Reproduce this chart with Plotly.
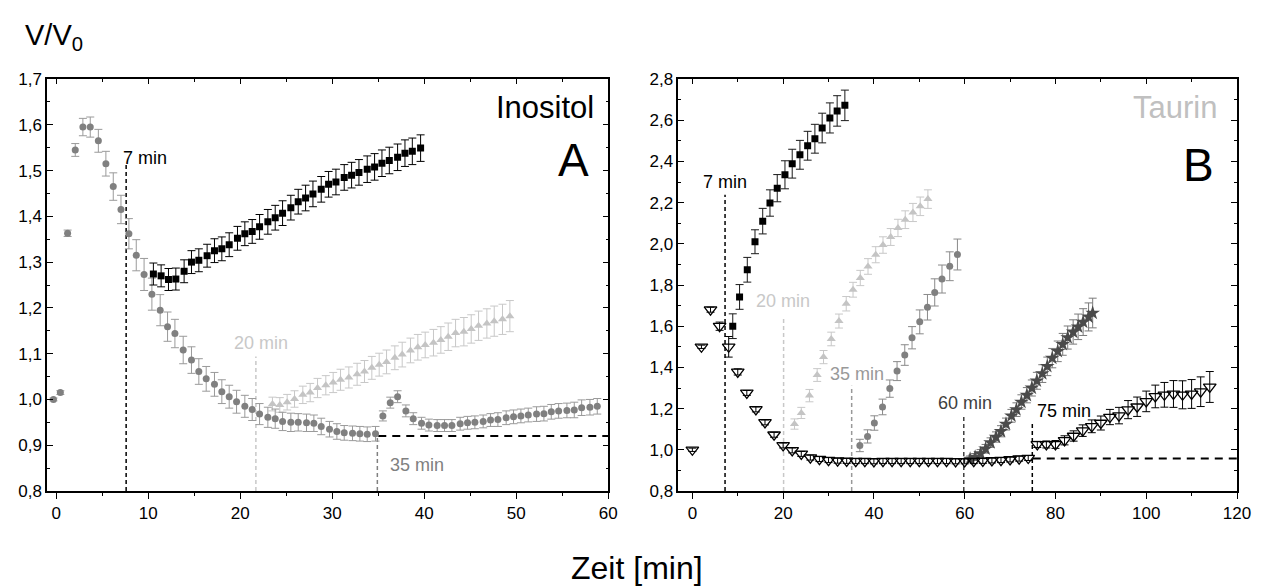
import plotly.graph_objects as go

# ---------------- Panel A (Inositol) ----------------
a_ctrl_x = [-0.3, 0.45, 1.24, 2.07, 2.9, 3.7, 4.58, 5.4, 6.2, 7.04, 7.9, 8.7, 9.55, 10.4, 11.3, 12.1,
            12.9, 13.8, 14.7, 15.5, 16.3, 17.2, 18.0, 18.8, 19.6, 20.5, 21.3, 22.1, 23.0, 23.8, 24.6,
            25.5, 26.3, 27.2, 28.0, 28.8, 29.7, 30.5, 31.3, 32.2, 33.0, 33.8, 34.7]
a_ctrl_y = [1.0, 1.015, 1.363, 1.545, 1.595, 1.595, 1.565, 1.515, 1.465, 1.415, 1.362, 1.315, 1.273,
            1.230, 1.195, 1.159, 1.144, 1.108, 1.086, 1.061, 1.045, 1.033, 1.017, 1.006, 0.995, 0.985,
            0.978, 0.968, 0.961, 0.958, 0.952, 0.950, 0.950, 0.949, 0.948, 0.941, 0.935, 0.930, 0.927,
            0.926, 0.925, 0.924, 0.925]
a_ctrl_e = [0.003, 0.004, 0.007, 0.014, 0.019, 0.022, 0.025, 0.027, 0.030, 0.031, 0.033, 0.034, 0.035,
            0.035, 0.034, 0.032, 0.031, 0.030, 0.029, 0.028, 0.027, 0.026, 0.026, 0.025, 0.025, 0.024,
            0.024, 0.023, 0.022, 0.021, 0.020, 0.020, 0.019, 0.019, 0.018, 0.018, 0.017, 0.017, 0.016,
            0.016, 0.016, 0.016, 0.016]

a_7_x = [10.56, 11.4, 12.2, 13.0, 13.9, 14.7, 15.5, 16.4, 17.2, 18.0, 18.8, 19.7, 20.5, 21.3, 22.1,
         23.0, 23.8, 24.6, 25.5, 26.3, 27.1, 27.9, 28.8, 29.6, 30.4, 31.3, 32.1, 32.9, 33.8, 34.6,
         35.4, 36.2, 37.1, 37.9, 38.7, 39.6]
a_7_y = [1.274, 1.270, 1.262, 1.263, 1.280, 1.300, 1.304, 1.314, 1.325, 1.329, 1.338, 1.352, 1.362,
         1.367, 1.377, 1.388, 1.397, 1.407, 1.419, 1.432, 1.440, 1.449, 1.459, 1.470, 1.475, 1.485,
         1.490, 1.496, 1.503, 1.508, 1.516, 1.522, 1.529, 1.538, 1.542, 1.549]
a_7_e = [0.024, 0.024, 0.024, 0.024, 0.025, 0.025, 0.025, 0.025, 0.026, 0.026, 0.026, 0.026, 0.026,
         0.026, 0.027, 0.027, 0.027, 0.027, 0.027, 0.027, 0.028, 0.028, 0.028, 0.028, 0.028, 0.028,
         0.028, 0.028, 0.029, 0.029, 0.029, 0.029, 0.029, 0.029, 0.029, 0.029]

a_20_x = [23.5, 24.3, 25.1, 25.9, 26.8, 27.6, 28.4, 29.3, 30.1, 30.9, 31.8, 32.7, 33.5, 34.3, 35.1,
          35.9, 36.8, 37.6, 38.5, 39.3, 40.1, 41.0, 41.8, 42.6, 43.4, 44.3, 45.1, 45.9, 46.8, 47.6,
          48.5, 49.3]
a_20_y = [0.990, 0.988, 0.994, 1.001, 1.010, 1.015, 1.025, 1.031, 1.037, 1.043, 1.048, 1.055, 1.061,
          1.069, 1.076, 1.082, 1.091, 1.098, 1.107, 1.114, 1.119, 1.124, 1.130, 1.137, 1.145, 1.148,
          1.154, 1.161, 1.166, 1.171, 1.175, 1.182]
a_20_e = [0.015, 0.016, 0.017, 0.018, 0.019, 0.020, 0.021, 0.021, 0.022, 0.023, 0.023, 0.024, 0.024,
          0.025, 0.025, 0.026, 0.026, 0.027, 0.027, 0.028, 0.028, 0.029, 0.029, 0.030, 0.030, 0.031,
          0.031, 0.032, 0.032, 0.033, 0.033, 0.034]

a_35_x = [35.5, 36.3, 37.1, 38.0, 38.8, 39.7, 40.5, 41.4, 42.2, 43.0, 43.9, 44.7, 45.5, 46.4, 47.2,
          48.0, 48.9, 49.7, 50.5, 51.3, 52.2, 53.0, 53.8, 54.6, 55.5, 56.3, 57.1, 58.0, 58.8]
a_35_y = [0.964, 0.993, 1.006, 0.975, 0.958, 0.948, 0.944, 0.943, 0.943, 0.943, 0.947, 0.949, 0.950,
          0.952, 0.955, 0.956, 0.960, 0.962, 0.964, 0.966, 0.968, 0.969, 0.973, 0.975, 0.976, 0.977,
          0.982, 0.983, 0.985]
a_35_e = [0.011, 0.012, 0.013, 0.013, 0.013, 0.013, 0.013, 0.013, 0.013, 0.013, 0.014, 0.014, 0.014,
          0.014, 0.014, 0.015, 0.015, 0.015, 0.015, 0.015, 0.016, 0.016, 0.016, 0.016, 0.016, 0.017,
          0.017, 0.017, 0.017]

a_event_t = [7.6, 21.7, 34.9]
a_event_top = [1.517, 1.094, 0.92]
a_event_color = ["#000000", "#c8c8c8", "#808080"]
a_event_label = ["7 min", "20 min", "35 min"]
a_label_x = [7.0, 19.1, 36.1]
a_label_y = [1.528, 1.124, 0.856]
a_base_y = 0.92
a_base_x = [35.0, 60.0]

# ---------------- Panel B (Taurin) ----------------
b_ctrl_x = [0, 2, 4, 6, 8, 10, 12, 14, 16, 18, 20, 22, 24, 26, 28, 30, 32, 34, 36, 38, 40, 42, 44, 46,
            48, 50, 52, 54, 56, 58, 60, 62, 64, 66, 68, 70, 72, 74]
b_ctrl_y = [1.0, 1.5, 1.68, 1.6, 1.5, 1.378, 1.276, 1.196, 1.133, 1.073, 1.021, 0.997, 0.980, 0.962,
            0.955, 0.950, 0.947, 0.946, 0.945, 0.945, 0.944, 0.945, 0.945, 0.945, 0.945, 0.945, 0.945,
            0.945, 0.945, 0.944, 0.944, 0.945, 0.946, 0.948, 0.950, 0.953, 0.957, 0.960]
b_ctrl_e = [0.008, 0.008, 0.012, 0.02, 0.05, 0.015, 0.012, 0.012, 0.012, 0.012, 0.012, 0.012, 0.012,
            0.012, 0.012, 0.012, 0.012, 0.012, 0.012, 0.012, 0.012, 0.012, 0.012, 0.012, 0.012, 0.012,
            0.012, 0.012, 0.012, 0.012, 0.012, 0.012, 0.012, 0.012, 0.012, 0.012, 0.012, 0.012]

b_75_x = [76, 78, 80, 82, 84, 86, 88, 90, 92, 94, 96, 98, 100, 102, 104, 106, 108, 110, 112, 114]
b_75_y = [1.026, 1.026, 1.026, 1.046, 1.067, 1.093, 1.114, 1.130, 1.159, 1.166, 1.195, 1.209, 1.235,
          1.259, 1.267, 1.271, 1.267, 1.271, 1.282, 1.305]
b_75_e = [0.015, 0.017, 0.019, 0.022, 0.025, 0.028, 0.031, 0.034, 0.037, 0.040, 0.044, 0.047, 0.05,
          0.055, 0.06, 0.065, 0.068, 0.07, 0.072, 0.075]

b_7_x = [8.9, 10.4, 12.1, 13.8, 15.5, 17.1, 18.7, 20.4, 22.0, 23.7, 25.4, 27.0, 28.6, 30.3, 31.9, 33.6]
b_7_y = [1.60, 1.742, 1.874, 2.010, 2.110, 2.198, 2.270, 2.335, 2.389, 2.432, 2.476, 2.510, 2.562,
         2.611, 2.645, 2.672]
b_7_e = [0.06, 0.06, 0.06, 0.058, 0.062, 0.064, 0.066, 0.068, 0.07, 0.07, 0.07, 0.07, 0.072, 0.073,
         0.074, 0.074]

b_20_x = [22.5, 24.0, 25.8, 27.5, 28.9, 30.6, 32.3, 33.9, 35.4, 37.0, 38.7, 40.4, 42.0, 43.7, 45.3,
          46.9, 48.6, 50.2, 51.9]
b_20_y = [1.125, 1.179, 1.263, 1.363, 1.450, 1.538, 1.625, 1.709, 1.777, 1.834, 1.890, 1.947, 1.994,
          2.033, 2.077, 2.117, 2.152, 2.182, 2.217]
b_20_e = [0.025, 0.027, 0.03, 0.031, 0.032, 0.033, 0.034, 0.035, 0.036, 0.037, 0.038, 0.039, 0.04,
          0.041, 0.042, 0.043, 0.044, 0.045, 0.045]

b_35_x = [36.9, 38.6, 40.1, 41.9, 43.5, 45.1, 46.8, 48.4, 50.1, 51.8, 53.4, 55.0, 56.7, 58.4]
b_35_y = [1.021, 1.065, 1.130, 1.208, 1.297, 1.382, 1.460, 1.544, 1.621, 1.692, 1.764, 1.829, 1.891,
          1.948]
b_35_e = [0.03, 0.032, 0.035, 0.038, 0.042, 0.046, 0.05, 0.054, 0.058, 0.062, 0.066, 0.068, 0.07, 0.075]

b_60_x = [61.2, 62.3, 63.5, 64.6, 65.7, 66.9, 68.0, 69.1, 70.3, 71.4, 72.5, 73.7, 74.8, 75.9, 77.1,
          78.2, 79.3, 80.5, 81.6, 82.7, 83.9, 85.0, 86.1, 87.3, 88.2]
b_60_y = [0.955, 0.965, 0.982, 1.005, 1.035, 1.062, 1.090, 1.125, 1.165, 1.195, 1.232, 1.265, 1.300,
          1.335, 1.370, 1.405, 1.445, 1.478, 1.512, 1.545, 1.572, 1.597, 1.620, 1.645, 1.664]
b_60_e = [0.015, 0.017, 0.019, 0.021, 0.023, 0.025, 0.027, 0.029, 0.031, 0.033, 0.035, 0.037, 0.039,
          0.041, 0.043, 0.045, 0.047, 0.05, 0.053, 0.056, 0.059, 0.062, 0.065, 0.068, 0.072]

b_event_t = [7.2, 20.1, 35.1, 59.8, 74.9]
b_event_top = [2.238, 1.648, 1.311, 1.162, 1.13]
b_event_color = ["#000000", "#c8c8c8", "#999999", "#404040", "#000000"]
b_event_label = ["7 min", "20 min", "35 min", "60 min", "75 min"]
b_label_x = [1.8, 13.5, 29.8, 53.6, 75.5]
b_label_y = [2.298, 1.72, 1.369, 1.227, 1.186]
b_base_y = 0.958
b_base_x = [75.0, 120.0]

FONT = "Liberation Sans, Arial, sans-serif"

fig = go.Figure()


def series(x, y, e, xa, ya, symbol, size, color, ecolor, line=None):
    marker = dict(symbol=symbol, size=size, color=color)
    if line:
        marker["line"] = line
    fig.add_trace(go.Scatter(
        x=x, y=y, mode="markers", xaxis=xa, yaxis=ya, marker=marker, showlegend=False,
        error_y=dict(type="data", array=e, visible=True, color=ecolor, thickness=1, width=4),
    ))


def events(ts, tops, colors, base, xa, ya):
    for t, top, c in zip(ts, tops, colors):
        fig.add_trace(go.Scatter(x=[t, t], y=[base, top], mode="lines", xaxis=xa, yaxis=ya,
                                 line=dict(color=c, width=1.5, dash="4px,3px"), showlegend=False,
                                 hoverinfo="skip"))


# Panel A
events(a_event_t, a_event_top, a_event_color, 0.8, "x", "y")
fig.add_trace(go.Scatter(x=a_base_x, y=[a_base_y, a_base_y], mode="lines", xaxis="x", yaxis="y",
                         line=dict(color="black", width=2, dash="8px,6px"), showlegend=False))
series(a_20_x, a_20_y, a_20_e, "x", "y", "triangle-up", 8, "#c4c4c4", "#c8c8c8")
series(a_ctrl_x, a_ctrl_y, a_ctrl_e, "x", "y", "circle", 7, "#808080", "#9a9a9a")
series(a_35_x, a_35_y, a_35_e, "x", "y", "circle", 7, "#808080", "#9a9a9a")
series(a_7_x, a_7_y, a_7_e, "x", "y", "square", 7, "#000000", "#000000")

# Panel B
events(b_event_t, b_event_top, b_event_color, 0.8, "x2", "y2")
fig.add_trace(go.Scatter(x=b_base_x, y=[b_base_y, b_base_y], mode="lines", xaxis="x2", yaxis="y2",
                         line=dict(color="black", width=2, dash="8px,6px"), showlegend=False))
series(b_20_x, b_20_y, b_20_e, "x2", "y2", "triangle-up", 8, "#c4c4c4", "#c8c8c8")
series(b_35_x, b_35_y, b_35_e, "x2", "y2", "circle", 7, "#808080", "#8a8a8a")
series(b_7_x, b_7_y, b_7_e, "x2", "y2", "square", 7, "#000000", "#1a1a1a")
series(b_60_x, b_60_y, b_60_e, "x2", "y2", "star", 11, "#4a4a4a", "#7a7a7a")
series(b_ctrl_x, b_ctrl_y, b_ctrl_e, "x2", "y2", "triangle-down-open", 11, "black", "#000000",
       line=dict(color="black", width=1.3))
series(b_75_x, b_75_y, b_75_e, "x2", "y2", "triangle-down-open", 11, "black", "#000000",
       line=dict(color="black", width=1.3))

# empty traces to anchor top tick axes
fig.add_trace(go.Scatter(x=[], y=[], xaxis="x3", yaxis="y", showlegend=False))
fig.add_trace(go.Scatter(x=[], y=[], xaxis="x4", yaxis="y2", showlegend=False))

tickfont = dict(family=FONT, size=17, color="black")
common_x = dict(showline=True, linecolor="black", linewidth=1.5, mirror=True, ticks="outside",
                ticklen=6, tickwidth=1.2, tickcolor="black", showgrid=False, zeroline=False,
                tickfont=tickfont)
common_y = dict(showline=True, linecolor="black", linewidth=1.5, mirror="ticks", ticks="inside",
                ticklen=6, tickwidth=1.2, tickcolor="black", showgrid=False, zeroline=False,
                tickfont=tickfont, tickformat=".1f")
top_x = dict(showline=False, ticks="inside", ticklen=5, tickwidth=1.2, tickcolor="black",
             showticklabels=False, showgrid=False, zeroline=False, side="top")

dA = [0, 0.4717]
dB = [0.5305, 1.0]

fig.update_layout(
    width=1262, height=587,
    margin=dict(l=47, r=25, t=79, b=96),
    paper_bgcolor="white", plot_bgcolor="white",
    separators=",.",
    font=dict(family=FONT, color="black"),
    xaxis=dict(**common_x, domain=dA, range=[-1.0, 60], tick0=0, dtick=10, anchor="y",
               minor=dict(dtick=5, ticks="outside", ticklen=3, tickcolor="black")),
    yaxis=dict(**common_y, domain=[0, 1], range=[0.8, 1.7], dtick=0.1, tick0=0.8, anchor="x",
               minor=dict(dtick=0.05, ticks="inside", ticklen=3, tickcolor="black")),
    xaxis2=dict(**common_x, domain=dB, range=[-3.1, 120], tick0=0, dtick=20, anchor="y2",
                minor=dict(dtick=10, ticks="outside", ticklen=3, tickcolor="black")),
    yaxis2=dict(**common_y, domain=[0, 1], range=[0.8, 2.8], dtick=0.2, tick0=0.8, anchor="x2",
                minor=dict(dtick=0.1, ticks="inside", ticklen=3, tickcolor="black")),
    xaxis3=dict(**top_x, overlaying="x", range=[-1.0, 60], tick0=0, dtick=10, anchor="y",
                minor=dict(dtick=5, ticks="inside", ticklen=3, tickcolor="black")),
    xaxis4=dict(**top_x, overlaying="x2", range=[-3.1, 120], tick0=0, dtick=20, anchor="y2",
                minor=dict(dtick=10, ticks="inside", ticklen=3, tickcolor="black")),
)

ann = []
for lab, lx, ly, c in zip(a_event_label, a_label_x, a_label_y, a_event_color):
    ann.append(dict(text=lab, x=lx, y=ly, xref="x", yref="y", xanchor="left", yanchor="middle",
                    showarrow=False, font=dict(family=FONT, size=18, color=c)))
for lab, lx, ly, c in zip(b_event_label, b_label_x, b_label_y, b_event_color):
    ann.append(dict(text=lab, x=lx, y=ly, xref="x2", yref="y2", xanchor="left", yanchor="middle",
                    showarrow=False, font=dict(family=FONT, size=18, color=c)))
ann += [
    dict(text="Inositol", x=58.7, y=1.637, xref="x", yref="y", xanchor="right", yanchor="middle",
         showarrow=False, font=dict(family=FONT, size=31, color="black")),
    dict(text="A", x=56.2, y=1.524, xref="x", yref="y", xanchor="center", yanchor="middle",
         showarrow=False, font=dict(family=FONT, size=46, color="black")),
    dict(text="Taurin", x=116, y=2.661, xref="x2", yref="y2", xanchor="right", yanchor="middle",
         showarrow=False, font=dict(family=FONT, size=31, color="#c0c0c0")),
    dict(text="B", x=111.6, y=2.384, xref="x2", yref="y2", xanchor="center", yanchor="middle",
         showarrow=False, font=dict(family=FONT, size=46, color="black")),
    dict(text="V/V<sub>0</sub>", x=-0.02, y=1.102, xref="paper", yref="paper", xanchor="left",
         yanchor="middle", showarrow=False, font=dict(family=FONT, size=29, color="black")),
    dict(text="Zeit [min]", x=0.496, y=-0.187, xref="paper", yref="paper", xanchor="center",
         yanchor="middle", showarrow=False, font=dict(family=FONT, size=32, color="black")),
]
fig.update_layout(annotations=ann)

fig.write_html("out.html")
